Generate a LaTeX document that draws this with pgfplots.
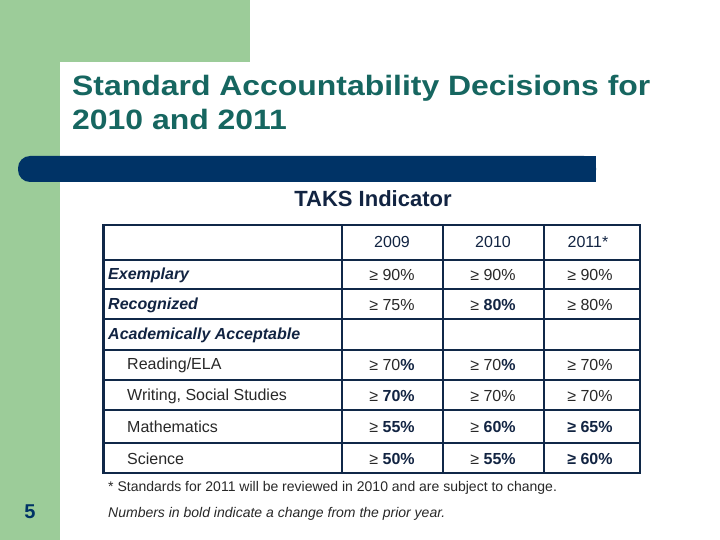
\documentclass[border=0pt]{standalone}
\usepackage{pgfplots}
\pgfplotsset{compat=1.18}
\usepackage{fontspec}
\setmainfont{Liberation Sans}

\definecolor{slidegreen}{RGB}{156,204,153}
\definecolor{titleteal}{RGB}{22,102,96}
\definecolor{barnavy}{RGB}{0,51,102}
\definecolor{gridnavy}{RGB}{16,40,72}
\definecolor{labnavy}{RGB}{18,36,66}
\definecolor{bodygrey}{RGB}{40,40,40}

% cell text styles
\pgfplotsset{
  celltext/.style={only marks, mark=*, mark size=0pt,
    mark options={draw=none, fill=none},
    nodes near coords, point meta=explicit symbolic,
    every node near coord/.append style={anchor=#1, inner sep=0pt,
      font=\fontsize{16}{19}\selectfont}},
}

\begin{document}
\begin{tikzpicture}
\begin{axis}[
  width=720pt, height=540pt, scale only axis,
  xmin=0, xmax=720, ymin=0, ymax=540, y dir=reverse,
  hide axis, clip=false,
]
% slide background
\fill[white] (axis cs:0,0) rectangle (axis cs:720,540);
\fill[slidegreen] (axis cs:0,0) rectangle (axis cs:250,62);
\fill[slidegreen] (axis cs:0,0) rectangle (axis cs:60,540);
\fill[white] (axis cs:60,78) rectangle (axis cs:720,540);
\fill[white] (axis cs:76,62) rectangle (axis cs:720,540);
\fill[white] (axis cs:76,78) circle[radius=16pt];

% title + bar
\node[anchor=base west, inner sep=0pt, text=titleteal,
  font=\fontsize{28}{34}\selectfont\bfseries] at (axis cs:72,96)
  {\scalebox{1.14}[1]{Standard Accountability Decisions for}};
\node[anchor=base west, inner sep=0pt, text=titleteal,
  font=\fontsize{28}{34}\selectfont\bfseries] at (axis cs:72,130)
  {\scalebox{1.14}[1]{2010 and 2011}};
\fill[barnavy, rounded corners=12pt] (axis cs:18,156) rectangle (axis cs:596,182);
\fill[barnavy] (axis cs:560,156) rectangle (axis cs:596,182);

\node[font=\fontsize{22}{26}\selectfont\bfseries, text=labnavy, inner sep=0pt]
  at (axis cs:373,199) {TAKS Indicator};

% table grid
\pgfplotsinvokeforeach{260,289,319,350,380,410,443}{
  \draw[gridnavy, line width=2.6pt] (axis cs:103.5,#1) -- (axis cs:640,#1);
}
\pgfplotsinvokeforeach{342,443,544}{
  \draw[gridnavy, line width=2.6pt] (axis cs:#1,225) -- (axis cs:#1,473);
}
\draw[gridnavy, line width=2.6pt] (axis cs:103.5,225) rectangle (axis cs:640,473);

% header row
\addplot[celltext=center, every node near coord/.append style={text=labnavy}]
  coordinates {(392,242) [2009] (493,242) [2010] (588,242) [2011*]};

% category labels
\addplot[celltext=west, every node near coord/.append style={text=labnavy,
    font=\fontsize{16}{19}\selectfont\bfseries\itshape}]
  coordinates {(108,275) [Exemplary] (108,305) [Recognized]
               (108,335) [Academically Acceptable]};
\addplot[celltext=west, every node near coord/.append style={text=bodygrey}]
  coordinates {(127,365) [Reading/ELA] (127,396) [{Writing, Social Studies}]
               (127,427) [Mathematics] (127,459) [Science]};

% values: 2009, 2010, 2011 (bold = changed from prior year)
\addplot[celltext=center, every node near coord/.append style={text=bodygrey}]
  coordinates {
    (392,275) [{≥ 90\%}] (493,275) [{≥ 90\%}] (590,275) [{≥ 90\%}]
    (392,305) [{≥ 75\%}] (493,305) [{≥ \textcolor{labnavy}{\bfseries 80\%}}] (590,305) [{≥ 80\%}]
    (392,365) [{≥ 70\textcolor{labnavy}{\bfseries\%}}] (493,365) [{≥ 70\textcolor{labnavy}{\bfseries\%}}] (590,365) [{≥ 70\%}]
    (392,396) [{≥ \textcolor{labnavy}{\bfseries 70\%}}] (493,396) [{≥ 70\%}] (590,396) [{≥ 70\%}]
    (392,427) [{≥ \textcolor{labnavy}{\bfseries 55\%}}] (493,427) [{≥ \textcolor{labnavy}{\bfseries 60\%}}] (590,427) [{\textcolor{labnavy}{\bfseries ≥ 65\%}}]
    (392,459) [{≥ \textcolor{labnavy}{\bfseries 50\%}}] (493,459) [{≥ \textcolor{labnavy}{\bfseries 55\%}}] (590,459) [{\textcolor{labnavy}{\bfseries ≥ 60\%}}]
  };

% notes
\node[anchor=west, inner sep=0pt, text=bodygrey, font=\fontsize{14}{16}\selectfont]
  at (axis cs:108,488) {* Standards for 2011 will be reviewed in 2010 and are subject to change.};
\node[anchor=west, inner sep=0pt, text=bodygrey, font=\fontsize{14}{16}\selectfont\itshape]
  at (axis cs:108,514) {Numbers in bold indicate a change from the prior year.};
\node[text=barnavy, font=\fontsize{20}{24}\selectfont\bfseries] at (axis cs:30,512) {5};
\end{axis}
\end{tikzpicture}
\end{document}
